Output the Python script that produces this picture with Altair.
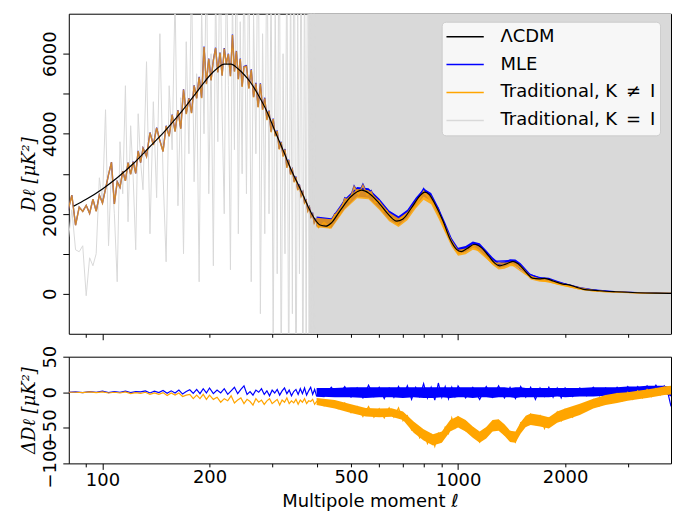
import altair as alt
import pandas as pd

# ---------------- data ----------------
L_CDM = [83, 90, 100, 110, 122, 135, 150, 165, 180, 190, 200, 210, 220, 230, 240, 250, 260, 275, 290, 306,
         323, 340, 359, 380, 395, 409, 425, 440, 466, 500, 536, 560, 600, 640, 671, 700, 740, 780, 806, 830,
         860, 907, 950, 990, 1020, 1060, 1114, 1160, 1220, 1270, 1309, 1360, 1427, 1480, 1560, 1620, 1690,
         1753, 1850, 1971, 2052, 2150, 2242, 2500, 2777, 3200, 3600, 3970]
D_CDM = [2190, 2360, 2620, 2900, 3250, 3650, 4070, 4500, 4930, 5200, 5450, 5630, 5740, 5740, 5630, 5480,
         5300, 4950, 4556, 4050, 3560, 3080, 2646, 2150, 1870, 1718, 1690, 1770, 2080, 2430, 2589, 2520,
         2260, 1960, 1817, 1870, 2150, 2440, 2539, 2480, 2250, 1817, 1361, 1110, 1053, 1130, 1237, 1160,
         940, 760, 697, 740, 810, 740, 520, 390, 370, 385, 320, 240, 224, 165, 116, 75, 50, 25, 14, 8]

L_TOP = [80, 82, 84, 86, 88, 90, 92, 94, 96, 98, 100, 102, 104, 106, 108, 110, 112, 114, 116, 118, 120, 122,
         124, 126, 128, 130,
         133, 136, 139, 142, 145, 148, 151, 154, 157, 160, 163, 166, 169, 172, 175, 178, 181, 184, 187, 190,
         193, 196, 199, 202, 205, 208, 211, 214, 217, 220, 223, 226, 229, 232, 235, 238, 241, 244, 247, 250,
         254, 258, 262, 266, 270, 274, 278, 282, 286, 290, 294, 298, 302, 306, 310, 314, 318, 322, 326, 330,
         334, 338, 342, 346, 350, 354, 358, 362, 366, 370, 374, 378, 382, 386, 390, 394, 398,
         405, 420, 435, 450, 465, 480, 495, 510, 525, 540, 555, 570, 585, 600, 615, 630, 645, 660, 675, 690,
         720, 760, 800, 840, 880, 920, 960, 1000,
         1100, 1250, 1400, 1550, 1700, 1850, 2000, 2200, 2400, 2600, 2800, 3000, 3200, 3400, 3600, 3800, 3970]
MLE_TOP = [2080, 2465, 1715, 2165, 2060, 2210, 2010, 2365, 2065, 2470, 2270, 2625, 2980, 3290, 2245, 2800,
           2660, 3065, 2825, 3280, 2990, 3300, 3010, 3570, 3280, 3640,
           3435, 4030, 3720, 4150, 3830, 3560, 4200, 3940, 4480, 4060, 4590, 4130, 5110, 4500, 4890, 4520,
           5210, 4890, 5420, 4900, 6180, 5250, 5880, 5340, 5840, 6150, 5540, 6030, 5460, 6140, 5750, 6000,
           5445, 6480, 5560, 6070, 5370, 5880, 5180, 5680,
           5700, 5140, 5610, 4920, 5270, 4670, 5260, 4610, 4900, 4356, 4580, 4050, 4380, 3950, 4080, 3620,
           3800, 3440, 3620, 3160, 3350, 2990, 3110, 2800, 2930, 2600, 2730, 2450, 2550, 2280, 2340, 2080,
           2170, 1930, 2000, 1780, 1860,
           1670, 1795, 1670, 2000, 2000, 2400, 2340, 2700, 2510, 2740, 2500, 2580, 2310, 2340, 2090, 2100,
           1890, 1910, 1760, 1910,
           2060, 2250, 2630, 2380, 2130, 1640, 1340, 1050,
           1250, 810, 825, 530, 385, 312, 240, 140, 93, 62, 50, 35, 26, 17, 14, 11, 8]
TRAD_TOP = [2080, 2463, 1713, 2163, 2058, 2208, 2008, 2362, 2062, 2467, 2267, 2622, 2977, 3287, 2242, 2797,
            2657, 3062, 2822, 3277, 2987, 3297, 3007, 3566, 3276, 3636,
            3431, 4025, 3715, 4145, 3825, 3555, 4194, 3934, 4474, 4053, 4583, 4123, 5102, 4492, 4882, 4512,
            5201, 4881, 5411, 4891, 6170, 5240, 5870, 5330, 5830, 6140, 5530, 6020, 5450, 6130, 5740, 5989,
            5434, 6469, 5549, 6058, 5358, 5868, 5168, 5668,
            5686, 5126, 5596, 4906, 5256, 4656, 5246, 4596, 4886, 4342, 4566, 4036, 4366, 3936, 4066, 3606,
            3786, 3426, 3606, 3146, 3336, 2976, 3096, 2786, 2916, 2586, 2716, 2436, 2536, 2266, 2326, 2066,
            2156, 1916, 1986, 1766, 1846,
            1655, 1781, 1655, 1982, 1979, 2378, 2315, 2673, 2482, 2712, 2471, 2549, 2280, 2311, 2062, 2072,
            1862, 1882, 1731, 1877,
            2018, 2194, 2568, 2314, 2066, 1585, 1297, 1008,
            1196, 760, 763, 488, 343, 276, 208, 118, 78, 51, 42, 29, 22, 15, 14, 12, 11]
GRAY_TOP = [1300, 2100, 1100, 1050, 1200, -50, 900, 700, 1000, 2900, 2300, 4600, 1200, 3200, 2000, 300,
            3800, 2500, 5200, 1800, 4200, 2900, 1100, 4500, 3300, 2600,
            5800, 1500, 4800, 2400, 6500, 3000, 800, 5200, 3600, 7500, 2200, 4900, 1000, 6300, 3500, 8000,
            2800, 5500, 300, 7200, 4000, 8500, 2500, 6000, 700, 7800, 3800, 9000, 4500, 2000, 8200, 5200,
            600, 7600, 3600, 9500, 1500, 6800, 3000, 8800,
            2500, 9000, 300, 7000, 3500, 10000, -500, 6500, 1500, 9500, 2000, 8000, -1500, 7500, 500, 11000,
            -2500, 6000, 1000, 9000, -3000, 8500, -500, 12000, -4000, 7000, 500, 10000, -3500, 9000, -2000,
            13000, -5000, 8000, -3000, 11000, -6000]

L_GRAYBAND = [380, 3970]
GRAY_LO = [-1000, -1000]
GRAY_HI = [7000, 7000]

L_BAND_TOP = [400, 440, 480, 520, 560, 600, 640, 680, 720, 760, 800, 840, 880, 920, 960, 1000, 1050, 1100,
              1150, 1200, 1250, 1300, 1350, 1400, 1450, 1500, 1600, 1700, 1800, 1900, 2000, 2200, 2400, 2600,
              2800, 3000, 3300, 3600, 3970]
MLE_LO = [1690, 1650, 2130, 2430, 2400, 2140, 1850, 1710, 1900, 2200, 2430, 2320, 1970, 1590, 1220, 1000,
          1045, 1155, 1120, 950, 770, 650, 675, 740, 740, 655, 390, 335, 325, 260, 210, 125, 72, 50, 35, 24,
          12, 5, 0]
MLE_HI = [1930, 1890, 2370, 2670, 2640, 2380, 2080, 1940, 2100, 2400, 2630, 2520, 2170, 1780, 1390, 1150,
          1195, 1305, 1260, 1090, 910, 780, 805, 865, 855, 760, 485, 420, 400, 325, 265, 170, 112, 85, 65, 52,
          36, 26, 20]
TRAD_LO = [1665, 1625, 2100, 2390, 2360, 2100, 1810, 1670, 1840, 2130, 2350, 2240, 1890, 1520, 1170, 950,
           990, 1100, 1060, 890, 720, 605, 625, 685, 690, 615, 355, 300, 290, 225, 180, 100, 55, 38, 25, 16,
           6, 2, -2]
TRAD_HI = [1900, 1860, 2330, 2620, 2590, 2330, 2030, 1890, 2040, 2330, 2560, 2450, 2100, 1710, 1340, 1100,
           1130, 1240, 1190, 1020, 850, 725, 750, 805, 800, 715, 445, 385, 370, 300, 245, 160, 100, 72, 55, 44,
           30, 24, 20]

L_BOT = [80, 84, 88, 92, 96, 100, 104, 108, 112, 116, 120, 124, 128, 132, 136, 140, 144, 148, 152, 156, 160,
         164, 168, 172, 176, 180, 184, 188, 192, 196, 200,
         205, 210, 215, 220, 225, 230, 235, 240, 245, 250, 255, 260, 265, 270, 275, 280, 285, 290, 295, 300,
         305, 310, 315, 320, 325, 330, 335, 340, 345, 350, 355, 360, 365, 370, 375, 380, 385, 390, 395, 400,
         420, 440, 460, 480, 500, 520, 540, 560, 580, 600, 620, 640, 660, 680, 700, 720, 740, 760, 780, 800,
         820, 840, 860, 880, 900, 920, 940, 960, 980, 1000,
         1050, 1100, 1150, 1200, 1250, 1300, 1350, 1400, 1450, 1500, 1550, 1600, 1650, 1700, 1750, 1800,
         1850, 1900, 1950, 2000,
         2100, 2200, 2300, 2400, 2500, 2600, 2700, 2800, 2900, 3000, 3100, 3200, 3300, 3400, 3500, 3600,
         3700, 3800, 3900, 3970]
DMLE = [0, 0.5, -0.5, 1, 0, 1.5, -0.5, 1, 0, 1.5, -0.5, 1, 0.5, 2, -1, 1.5, -0.5, 2.5, -1.5, 2, -1, 3, -2.5,
        1, 3.5, -1.5, 4, -2, 5, -1, 6,
        -2, 3, -1, 5, -3, 2, 7, -2, 4, 9, -3, 1, -4, 3, 0, 5, -3, 2, -5, 3, -1, 4, -4, 2, 6, -2, 3, -5, 1, 4,
        -3, 5, -2, 6, -4, 2, 7, -3, 4, -5,
        -6, 7, -5, 8, -7, 6, -8, 10, -6, 7, -9, 6, -7, 8, -6, 9, -10, 7, -6, 12, -8, 7, -11, 13, -7, 8, -9, 7,
        -6, 9,
        -8, 7, -10, 8, -7, 9, -8, 7, -9, 8, -7, 7, -10, 6, -6, 7, -7, 6, -8, 6,
        -6, 6, -5, 7, -5, 6, -4, 7, -3, 8, -2, 8, -1, 9, 0, 10, 1, 9, -3, -20]
DTRAD = [0, 0, -0.5, 0.5, -0.5, 0.5, -1, 0, -1, 0.5, -2, -0.5, -1.5, 0, -3, -1, -3, -0.5, -4.5, -1, -4, -1,
         -6, -4, -3, -9, -4, -9, -3, -10, -4,
         -10, -7, -14, -9, -12, -5, -15, -11, -8, -16, -10, -13, -18, -9, -14, -11, -17, -12, -9, -16, -13,
         -10, -18, -11, -14, -8, -16, -12, -15, -10, -17, -11, -14, -9, -16, -12, -13, -10, -17, -13,
         -19, -13, -23, -15, -29, -20, -34, -20, -35, -23, -36, -22, -35, -22, -40, -33, -53, -48, -64, -55,
         -72, -60, -76, -58, -68, -49, -58, -36, -50, -35,
         -54, -50, -70, -52, -54, -40, -60, -55, -70, -43, -48, -31, -45, -33, -51, -36, -44, -28, -40, -24,
         -35, -18, -25, -10, -19, -5, -15, -2, -12, 0, -10, 2, -8, 4, -6, 5, -4, 7, -2, 4]

L_BAND_BOT = [400, 450, 500, 550, 600, 650, 700, 750, 800, 850, 900, 950, 1000, 1050, 1100,
              1150, 1200, 1250, 1300, 1350, 1400, 1450, 1500, 1550, 1600, 1700, 1800, 1900, 2000, 2200, 2400,
              2600, 2800, 3000, 3200, 3400, 3600, 3800, 3970]
DMLE_LO = [-6, -7, -7, -8, -7, -7, -8, -7, -8, -8, -7, -8, -7, -7, -8, -7, -7, -8, -7, -7, -7,
           -8, -7, -7, -7, -7, -7, -6, -7, -6, -6, -5, -5, -4, -3, -2, -1, -1, -6]
DMLE_HI = [6, 6, 7, 7, 7, 7, 7, 7, 7, 7, 7, 7, 7, 7, 7, 7, 7, 7, 7, 7, 6, 7, 7, 6, 6, 6, 6, 6, 6,
           6, 7, 7, 7, 8, 8, 9, 9, 9, 7]
DTRAD_LO = [-18, -23, -29, -34, -35, -34.5, -39, -57, -68, -75, -71, -55, -49.5, -55, -64,
            -71, -65, -55, -54, -61, -70, -71, -58, -49, -46, -48, -51, -43, -39, -32, -23, -18, -15, -12,
            -10, -8, -6, -4, -3]
DTRAD_HI = [-8, -11, -17, -22, -23, -22.5, -27, -41, -52, -59, -55, -39, -33.5, -39, -48,
            -55, -49, -39, -38, -45, -54, -55, -42, -33, -30, -32, -35, -27, -23, -16, -9, -4, -1, 0, 2, 4,
            6, 8, 9]

SERIES = ["ΛCDM", "MLE", "Traditional, K\u2002≠\u2002I", "Traditional, K\u2002=\u2002I"]
COLORS = ["#000000", "#0000ff", "#ffa500", "#d9d9d9"]
XTICKS = [90, 100, 200, 300, 400, 500, 600, 700, 800, 900, 1000, 2000, 3000]
XLABELS = [100, 200, 500, 1000, 2000]

# ---------------- frames ----------------
df_cdm = pd.DataFrame({"l": L_CDM, "v": D_CDM, "s": SERIES[0]})
df_mle = pd.DataFrame({"l": L_TOP, "v": MLE_TOP, "s": SERIES[1]})
df_trad = pd.DataFrame({"l": L_TOP, "v": TRAD_TOP, "s": SERIES[2]})
df_gray = pd.DataFrame({"l": L_TOP[:len(GRAY_TOP)], "v": GRAY_TOP, "s": SERIES[3]})
df_gband = pd.DataFrame({"l": L_GRAYBAND, "lo": GRAY_LO, "hi": GRAY_HI})
df_mband = pd.DataFrame({"l": L_BAND_TOP, "lo": MLE_LO, "hi": MLE_HI})
df_tband = pd.DataFrame({"l": L_BAND_TOP, "lo": TRAD_LO, "hi": TRAD_HI})
df_dmle = pd.DataFrame({"l": L_BOT, "v": DMLE})
df_dtrad = pd.DataFrame({"l": L_BOT, "v": DTRAD})
df_dmband = pd.DataFrame({"l": L_BAND_BOT, "lo": DMLE_LO, "hi": DMLE_HI})
df_dtband = pd.DataFrame({"l": L_BAND_BOT, "lo": DTRAD_LO, "hi": DTRAD_HI})

FONT = "DejaVu Sans"
xscale = alt.Scale(type="log", domain=[80.4, 3970], nice=False)
xtick_size = {"condition": {"test": "datum.value == 100 || datum.value == 1000", "value": 6}, "value": 3.5}
label_test = "indexof([" + ",".join(str(v) for v in XLABELS) + "], datum.value) >= 0 ? datum.label : ''"

x_top = alt.X("l:Q", scale=xscale,
              axis=alt.Axis(values=XTICKS, labels=False, title=None, tickSize=xtick_size))
x_bot = alt.X("l:Q", scale=xscale,
              axis=alt.Axis(values=XTICKS, format="d", labelOverlap=False, labelFlush=False,
                            labelExpr=label_test,
                            title="Multipole moment ℓ", tickSize=xtick_size, labelPadding=2,
                            titlePadding=3))

ytop_scale = alt.Scale(domain=[-1000, 7000], nice=False, zero=False)
ytop_axis = alt.Axis(values=[0, 1000, 2000, 3000, 4000, 5000, 6000], format="d", labelOverlap=False,
                     labelExpr="datum.value % 2000 == 0 ? datum.label : ''",
                     title="Dℓ [μK²]", labelAngle=270, labelAlign="center", labelBaseline="bottom",
                     tickSize=6, labelPadding=3, titlePadding=3, titleFont="DejaVu Serif",
                     titleFontStyle="italic")
ybot_scale = alt.Scale(domain=[-100, 50], nice=False, zero=False)
ybot_axis = alt.Axis(values=[-100, -50, 0, 50], format="d", labelOverlap=False,
                     title="ΔDℓ [μK²]", labelAngle=270, labelAlign="center", labelBaseline="bottom",
                     tickSize=6, labelPadding=3, titlePadding=3, titleFont="DejaVu Serif",
                     titleFontStyle="italic", labelFlush=False)

color_scale = alt.Scale(domain=SERIES, range=COLORS)
legend = alt.Legend(title=None, orient="none", legendX=374, legendY=8, symbolType="stroke",
                    symbolSize=1400, symbolStrokeWidth=1.5, labelFont=FONT, labelFontSize=18,
                    labelLimit=400, fillColor="#f7f7f7", strokeColor="#cccccc", cornerRadius=4,
                    padding=4, rowPadding=6, clipHeight=22, labelOffset=16, symbolOpacity=1)
color = alt.Color("s:N", scale=color_scale, legend=legend)

yt = alt.Y("v:Q", scale=ytop_scale, axis=ytop_axis)
ytlo = alt.Y("lo:Q", scale=ytop_scale, axis=ytop_axis)

gray_band = alt.Chart(df_gband).mark_area(color="#d9d9d9", clip=True).encode(x=x_top, y=ytlo, y2="hi:Q")
gray_line = alt.Chart(df_gray).mark_line(clip=True, strokeWidth=1).encode(x=x_top, y=yt, color=color)
mle_band = alt.Chart(df_mband).mark_area(color="#0000ff", clip=True).encode(x=x_top, y=ytlo, y2="hi:Q")
mle_line = alt.Chart(df_mle).mark_line(clip=True, strokeWidth=1.3).encode(x=x_top, y=yt, color=color)
trad_band = alt.Chart(df_tband).mark_area(color="#ffa500", opacity=0.85, clip=True).encode(
    x=x_top, y=ytlo, y2="hi:Q")
trad_line = alt.Chart(df_trad).mark_line(clip=True, strokeWidth=1.5, opacity=0.8).encode(
    x=x_top, y=yt, color=color)
cdm_line = alt.Chart(df_cdm).mark_line(clip=True, strokeWidth=1.2, interpolate="monotone").encode(
    x=x_top, y=yt, color=color)

top = alt.layer(gray_band, gray_line, mle_band, mle_line, trad_band, trad_line, cdm_line).properties(
    width=604, height=321)

yb = alt.Y("v:Q", scale=ybot_scale, axis=ybot_axis)
yblo = alt.Y("lo:Q", scale=ybot_scale, axis=ybot_axis)
dmle_band = alt.Chart(df_dmband).mark_area(color="#0000ff", clip=True).encode(x=x_bot, y=yblo, y2="hi:Q")
dmle_line = alt.Chart(df_dmle).mark_line(color="#0000ff", clip=True, strokeWidth=1.2).encode(x=x_bot, y=yb)
dtrad_band = alt.Chart(df_dtband).mark_area(color="#ffa500", clip=True).encode(x=x_bot, y=yblo, y2="hi:Q")
dtrad_line = alt.Chart(df_dtrad).mark_line(color="#ffa500", clip=True, strokeWidth=1.2).encode(x=x_bot, y=yb)

bottom = alt.layer(dmle_band, dmle_line, dtrad_band, dtrad_line).properties(width=604, height=107)

chart = alt.vconcat(top, bottom, spacing=4).properties(
    padding={"left": 20, "top": 12, "right": 1, "bottom": 0}
).configure_view(stroke="#000000", strokeWidth=1).configure_axis(
    labelFont=FONT, labelFontSize=18, titleFont=FONT, titleFontSize=18, titleFontWeight="normal",
    labelColor="#000000", titleColor="#000000", tickColor="#000000", grid=False, domain=False, tickWidth=1
)

chart.save("out.html", embed_options={"renderer": "svg", "actions": False})
